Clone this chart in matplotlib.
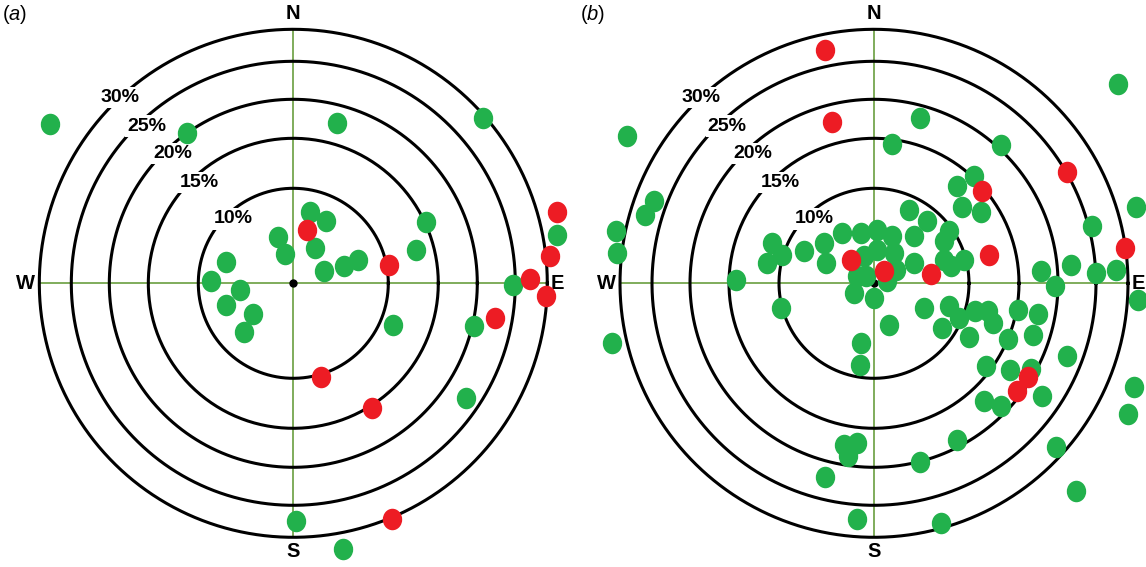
import numpy as np
import matplotlib
matplotlib.use('Agg')
import matplotlib.pyplot as plt
from matplotlib.path import Path
from matplotlib.transforms import Affine2D

plt.rcParams['font.family'] = 'Liberation Sans'
plt.rcParams['mathtext.fontset'] = 'custom'
plt.rcParams['mathtext.rm'] = 'Liberation Sans'
plt.rcParams['mathtext.it'] = 'Liberation Sans:italic'

# ring radii (plot units) and their labels
ring_radius = [95, 145, 184, 222, 254]
ring_labels = ['10%', '15%', '20%', '25%', '30%']

# panel (a) points, x = east, y = north
green_a_x = [-243, -106, 44, 190, 17, 33, -15.5, -8, 21.5, 31, 51, 65, 133, 123, 264, 220,
             -67, -82, -53, -67, -40, -49, 100, 181, 173, 3, 50]
green_a_y = [159, 150, 160, 165, 71, 62, 46, 29, 35, 12, 17, 23, 61, 33, 48, -2,
             21, 2, -7, -22, -31, -49, -42, -43, -115, -238, -266]
red_a_x = [14, 96, 264, 257, 237, 253, 28, 79, 202, 99]
red_a_y = [53, 18, 71, 27, 4, -13, -94, -125, -35, -236]

# panel (b) points
green_b_x = [244, -247, 46, 18, 127, 262, -220, -229, -258, -257, 100, 83, 88, 107, 218, 197,
             222, 242, 167, 181, -138,
             -102, -92, -107, -70, -50, -48, -32, -13, 3, 18, 35, 53, 40, 75, 70, 3, 20, 40,
             70, 90, 77, -10, -17, -8, 13, 22, -20, 0, -93, 50, 75, 15,
             -262, 85, 68, 101, 114, 119, 95, 144, 164, 134, 159, -13, -14, 193, 112, 136,
             157, 168, 110, 127, 260, 254, 264, -30, -17, -26, 83, 46, 182, -49, 202, -17, 67]
green_b_y = [199, 147, 165, 139, 138, 76, 82, 68, 52, 30, 107, 97, 76, 71, 57, 18,
             10, 13, 12, -3, 3,
             40, 28, 20, 32, 40, 20, 50, 50, 53, 47, 73, 62, 47, 52, 42, 33, 30, 20,
             23, 23, 17, 27, 7, 7, 2, 13, -10, -15, -25, -25, -23, -42,
             -60, -35, -45, -28, -28, -40, -54, -27, -31, -56, -52, -60, -82, -73, -83, -87,
             -86, -113, -118, -123, -104, -131, -17, -162, -160, -173, -157, -179, -164, -194, -208, -236, -240]
red_b_x = [-49, -42, 193, 108, 115, 251, -23, 10, 57, 154, 143]
red_b_y = [233, 161, 111, 92, 28, 35, 23, 12, 9, -94, -108]

GREEN = '#22b14c'
RED = '#ed1c24'
AXIS_GREEN = '#6a9e3f'

# slightly tall ellipse marker
dot = Path.unit_circle().transformed(Affine2D().scale(0.9, 1.0))

fig = plt.figure(figsize=(11.46, 5.67), dpi=100)


def draw_panel(ax, gx, gy, rx, ry, tag):
    ax.set_axis_off()
    R = ring_radius[-1]
    ax.plot([-R, R], [0, 0], color=AXIS_GREEN, lw=1.2, zorder=1)
    ax.plot([0, 0], [-R, R], color=AXIS_GREEN, lw=1.2, zorder=1)
    t = np.linspace(0, 2 * np.pi, 400)
    for r, lab in zip(ring_radius, ring_labels):
        ax.plot(r * np.cos(t), r * np.sin(t), color='black', lw=2.2, zorder=2)
        ang = np.deg2rad(133)
        rr = r if lab == '30%' else r - 7
        ax.text(rr * np.cos(ang), rr * np.sin(ang), lab, fontsize=14, fontweight='bold',
                ha='center', va='center', zorder=3,
                bbox=dict(facecolor='white', edgecolor='none', pad=1.5))
    ax.plot([0], [0], 'o', color='black', ms=5, zorder=2)
    ax.text(0, 270, 'N', fontsize=14.5, fontweight='bold', ha='center', va='center')
    ax.text(0, -268, 'S', fontsize=14.5, fontweight='bold', ha='center', va='center')
    ax.text(-268, 0, 'W', fontsize=14.5, fontweight='bold', ha='center', va='center')
    ax.text(264, 0, 'E', fontsize=14.5, fontweight='bold', ha='center', va='center')
    ax.plot(gx, gy, ls='none', marker=dot, ms=15.5, color=GREEN, mec='none',
            zorder=4, clip_on=False)
    ax.plot(rx, ry, ls='none', marker=dot, ms=15.5, color=RED, mec='none',
            zorder=5, clip_on=False)
    ax.text(0.004, 0.975, '(' + r'$\it{' + tag + '}$' + ')', transform=ax.transAxes,
            fontsize=14.5, ha='left', va='center')


w = 573 / 1146
ax1 = fig.add_axes([0, 0, w, 1])
ax1.set_xlim(-293.3, 279.7)
ax1.set_ylim(-283.7, 283.3)
draw_panel(ax1, green_a_x, green_a_y, red_a_x, red_a_y, 'a')

ax2 = fig.add_axes([w, 0, w, 1])
ax2.set_xlim(-301, 272)
ax2.set_ylim(-283.7, 283.3)
draw_panel(ax2, green_b_x, green_b_y, red_b_x, red_b_y, 'b')
ax2.texts[-1].set_x(0.012)

fig.savefig('out.png', dpi=100)
